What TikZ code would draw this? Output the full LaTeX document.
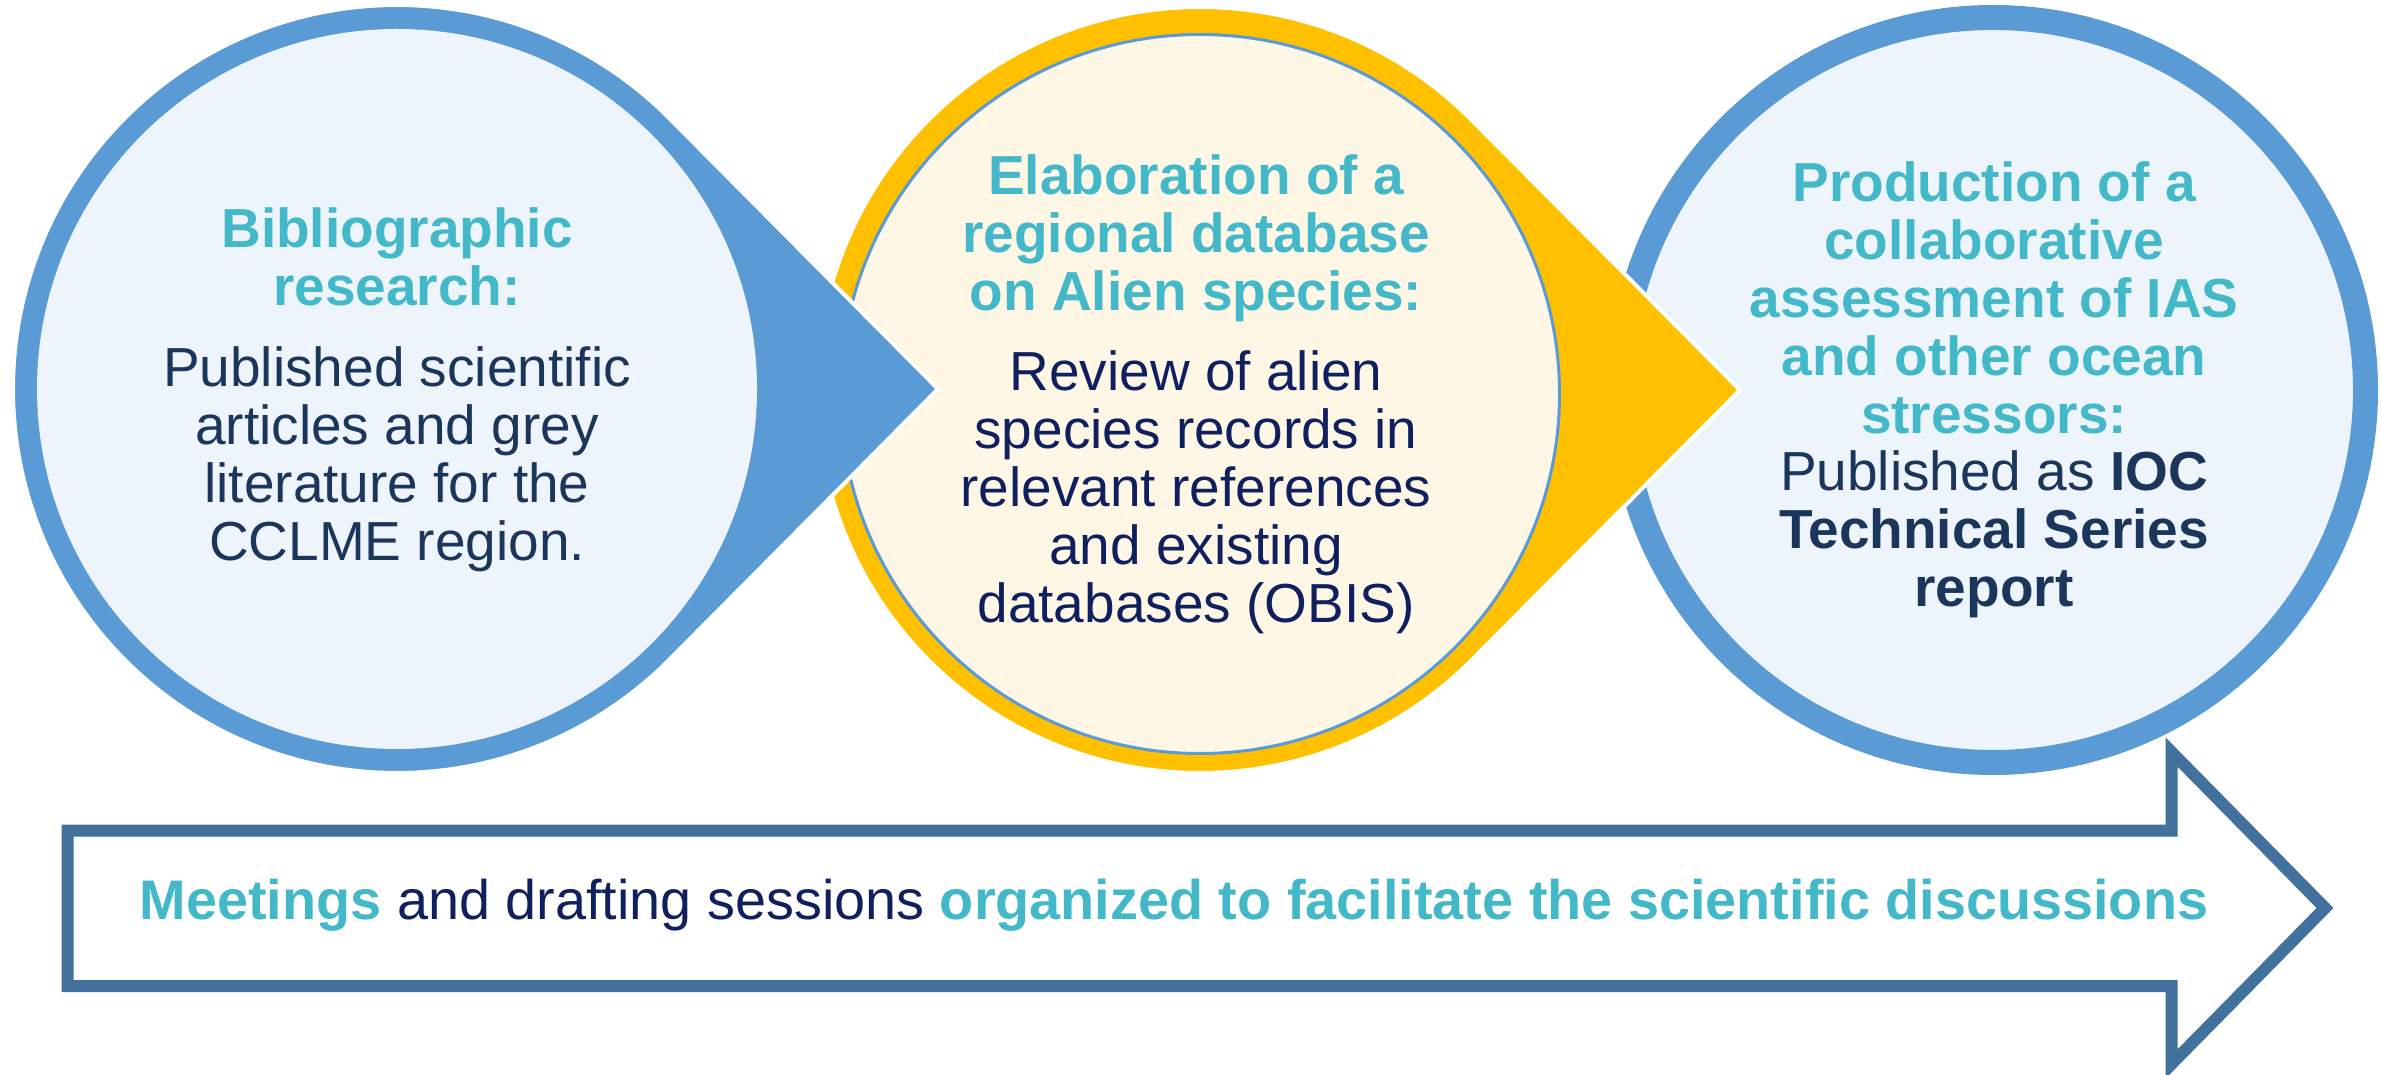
\documentclass[tikz,border=0pt]{standalone}
\usepackage{fontspec}
\setmainfont{Liberation Sans}
\usetikzlibrary{calc}
\definecolor{ringblue}{HTML}{5B9BD5}
\definecolor{lightfill}{HTML}{EDF4FB}
\definecolor{goldc}{HTML}{FFC000}
\definecolor{creamc}{HTML}{FFF7E6}
\definecolor{headc}{HTML}{43B8C8}
\definecolor{navyc}{HTML}{1B355B}
\definecolor{navyb}{HTML}{10205E}
\definecolor{arrowc}{HTML}{41719C}
\begin{document}
\begin{tikzpicture}[x=1pt,y=1pt,
  headtxt/.style={align=center, text=headc, font=\fontsize{55}{58}\selectfont\bfseries, anchor=base, inner sep=0pt},
  bodytxt/.style={align=center, text=navyc, font=\fontsize{55}{58}\selectfont, anchor=base, inner sep=0pt},
  tear/.style={draw=white, line width=4pt},
  arrowline/.style={draw=arrowc, line width=12pt, fill=white, line join=miter, miter limit=10}]
\useasboundingbox (0,0) rectangle (2381,1074);

% bottom arrow
\draw[arrowline] (67.5,243.5) -- (2171.5,243.5) -- (2171.5,322) -- (2325,166) -- (2171.5,10) -- (2171.5,88) -- (67.5,88) -- cycle;
\node[anchor=base, inner sep=0pt, font=\fontsize{55.8}{58}\selectfont] (meet) at (1174,155)
  {\textcolor{headc}{\bfseries Meetings} \textcolor{navyb}{and drafting sessions} \textcolor{headc}{\bfseries organized to facilitate the scientific discussions}};

% right circle
\node[circle, fill=lightfill, draw=ringblue, line width=25pt, minimum size=745pt, inner sep=0pt] (right) at (1993,684) {};

% middle teardrop
\coordinate (CM) at (1200,684);
\coordinate (TM) at (1740,684);
\fill[goldc, tear] (TM) -- ($(CM)+(44.8:383)$) arc[start angle=44.8, end angle=315.2, radius=383] -- cycle;
\node[circle, fill=creamc, draw=ringblue, line width=3pt, minimum size=719pt, inner sep=0pt] (mid) at (1200,680) {};

% left teardrop
\coordinate (CL) at (397,685);
\coordinate (TL) at (938,685);
\fill[ringblue, tear] (TL) -- ($(CL)+(44.8:384)$) arc[start angle=44.8, end angle=315.2, radius=384] -- cycle;
\node[circle, fill=lightfill, minimum size=720pt, inner sep=0pt] (left) at (CL) {};

% texts (anchor = baseline of the last line)
\node[headtxt] (lh) at (397,768) {Bibliographic\\research:};
\node[bodytxt] (lb) at (397,513) {Published scientific\\articles and grey\\literature for the\\CCLME region.};

\node[headtxt] (mh) at (1196,763) {Elaboration of a\\regional database\\on Alien species:};
\node[bodytxt, text=navyb] (mb) at (1196,451) {Review of alien\\species records in\\relevant references\\and existing\\databases (OBIS)};

\node[headtxt] (rh) at (1994,640) {Production of a\\collaborative\\assessment of IAS\\and other ocean\\stressors:};
\node[bodytxt] (rb) at (1994,467) {Published as \textbf{IOC}\\\textbf{Technical Series}\\\textbf{report}};
\end{tikzpicture}
\end{document}
